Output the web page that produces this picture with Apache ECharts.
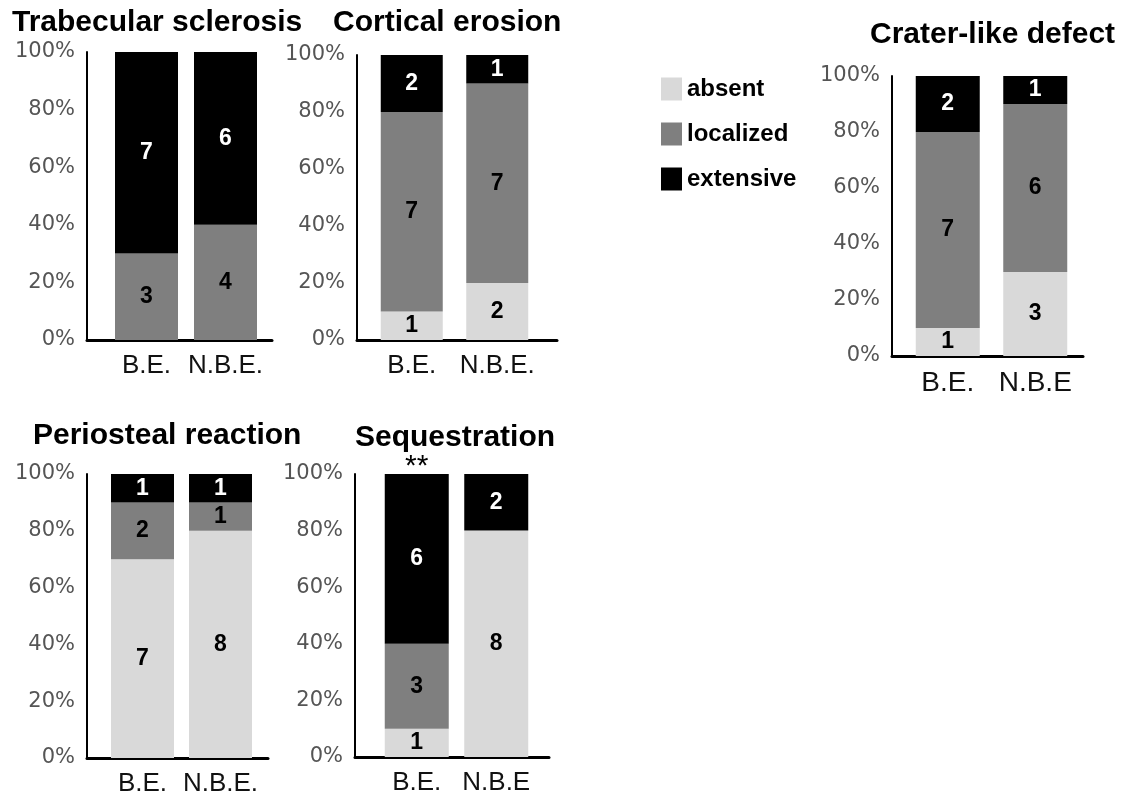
<!DOCTYPE html>
<html><head><meta charset="utf-8">
<script src="https://cdn.jsdelivr.net/npm/echarts@6/dist/echarts.min.js"></script>
<style>html,body{margin:0;padding:0;background:#fff}#c{width:1124px;height:800px}</style>
</head><body><div id="c"></div>
<script>
// ---- data ----
const levels = ['absent', 'localized', 'extensive'];
const panelTitles = ['Trabecular sclerosis', 'Cortical erosion', 'Crater-like defect', 'Periosteal reaction', 'Sequestration'];
const catsTrabecular = ['B.E.', 'N.B.E.'];
const catsCortical = ['B.E.', 'N.B.E.'];
const catsCrater = ['B.E.', 'N.B.E'];
const catsPeriosteal = ['B.E.', 'N.B.E.'];
const catsSequestration = ['B.E.', 'N.B.E'];

const trabecularAbsent = [0, 0], trabecularLocalized = [3, 4], trabecularExtensive = [7, 6];
const corticalAbsent = [1, 2], corticalLocalized = [7, 7], corticalExtensive = [2, 1];
const craterAbsent = [1, 3], craterLocalized = [7, 6], craterExtensive = [2, 1];
const periostealAbsent = [7, 8], periostealLocalized = [2, 1], periostealExtensive = [1, 1];
const sequestrationAbsent = [1, 8], sequestrationLocalized = [3, 0], sequestrationExtensive = [6, 2];
const sequestrationSignificance = ['**', ''];

const yMin = 0, yMax = 100, yStep = 20;

// ---- layout / style ----
const colors = ['#d9d9d9', '#7f7f7f', '#000000'];
const labelColors = ['#000', '#000', '#fff'];
// frame: axis-line extents; band: category band layout
const panels = [
  { cats: catsTrabecular, counts: [trabecularAbsent, trabecularLocalized, trabecularExtensive], sig: null,
    frame: { left: 87, top: 52, width: 185, height: 288 }, band: { left: 107, width: 158 }, barW: 63,
    title: { left: 12, top: 8 }, catSize: 26 },
  { cats: catsCortical, counts: [corticalAbsent, corticalLocalized, corticalExtensive], sig: null,
    frame: { left: 357, top: 55, width: 200, height: 285 }, band: { left: 369, width: 171 }, barW: 62,
    title: { left: 333, top: 8 }, catSize: 26 },
  { cats: catsCrater, counts: [craterAbsent, craterLocalized, craterExtensive], sig: null,
    frame: { left: 892, top: 76, width: 191, height: 280 }, band: { left: 904, width: 175 }, barW: 64,
    title: { left: 870, top: 20 }, catSize: 28 },
  { cats: catsPeriosteal, counts: [periostealAbsent, periostealLocalized, periostealExtensive], sig: null,
    frame: { left: 87, top: 474, width: 181, height: 284 }, band: { left: 103.5, width: 156 }, barW: 63,
    title: { left: 33, top: 421 }, catSize: 26 },
  { cats: catsSequestration, counts: [sequestrationAbsent, sequestrationLocalized, sequestrationExtensive], sig: sequestrationSignificance,
    frame: { left: 355, top: 474, width: 194, height: 283 }, band: { left: 377, width: 159 }, barW: 64,
    title: { left: 355, top: 423 }, catSize: 26 }
];

const SANS = '"Liberation Sans", Arial, sans-serif';
const titles = [], grids = [], xAxes = [], yAxes = [], series = [];

panels.forEach((p, pi) => {
  titles.push({
    text: panelTitles[pi], left: p.title.left, top: p.title.top, padding: 0,
    textStyle: { fontFamily: SANS, fontWeight: 'bold', fontSize: 30, color: '#000' }
  });
  // data grid (bars, category labels, y axis shifted onto the frame line)
  const gData = grids.length;
  grids.push({ left: p.band.left, width: p.band.width, top: p.frame.top, height: p.frame.height });
  xAxes.push({
    gridIndex: gData, type: 'category', data: p.cats, boundaryGap: true,
    axisLine: { show: false }, axisTick: { show: false }, splitLine: { show: false },
    axisLabel: { interval: 0, hideOverlap: false, fontFamily: SANS, fontSize: p.catSize, color: '#111', margin: 13 }
  });
  yAxes.push({
    gridIndex: gData, type: 'value', min: yMin, max: yMax, interval: yStep,
    offset: p.band.left - p.frame.left,
    axisLine: { show: true, onZero: false, lineStyle: { color: '#000', width: 2 } },
    axisTick: { show: false }, splitLine: { show: false },
    axisLabel: { formatter: '{value}%', fontFamily: '"DejaVu Sans", sans-serif', fontSize: 21, color: '#555', margin: 12 }
  });
  // frame grid (baseline axis line over full extent)
  const gFrame = grids.length;
  grids.push(Object.assign({}, p.frame));
  xAxes.push({
    gridIndex: gFrame, type: 'value', min: 0, max: 1,
    axisLine: { show: true, onZero: false, lineStyle: { color: '#000', width: 3 } },
    axisTick: { show: false }, splitLine: { show: false }, axisLabel: { show: false }
  });
  yAxes.push({
    gridIndex: gFrame, type: 'value', min: yMin, max: yMax, show: false
  });

  const totals = p.cats.map((c, i) => p.counts.reduce((s, arr) => s + arr[i], 0));
  levels.forEach((lev, li) => {
    const counts = p.counts[li];
    const s = {
      type: 'bar', name: lev, xAxisIndex: xAxes.length - 2, yAxisIndex: yAxes.length - 2, stack: 'panel' + pi,
      barWidth: p.barW,
      itemStyle: { color: colors[li] },
      data: counts.map((c, i) => c / totals[i] * 100),
      label: {
        show: true, position: 'inside',
        formatter: prm => counts[prm.dataIndex] ? String(counts[prm.dataIndex]) : '',
        color: labelColors[li], fontFamily: SANS, fontWeight: 'bold', fontSize: 23
      },
      emphasis: { disabled: true }
    };
    if (p.sig && li === levels.length - 1) {
      s.markPoint = {
        symbol: 'circle', symbolSize: 1, itemStyle: { color: 'rgba(0,0,0,0)' },
        data: p.sig.map((t, i) => ({ coord: [i, yMax], value: t })).filter(d => d.value),
        label: { show: true, position: 'top', distance: -8, formatter: d => d.value,
          fontFamily: SANS, fontSize: 30, color: '#000' }
      };
    }
    series.push(s);
  });
});

const chart = echarts.init(document.getElementById('c'), null, { renderer: 'canvas' });
chart.setOption({
  animation: false,
  backgroundColor: '#fff',
  title: titles,
  legend: {
    data: levels, orient: 'vertical', left: 661, top: 77, padding: 0,
    itemWidth: 21, itemHeight: 23, itemGap: 21, icon: 'rect',
    textStyle: { fontFamily: SANS, fontWeight: 'bold', fontSize: 24, color: '#000' },
    selectedMode: false
  },
  grid: grids, xAxis: xAxes, yAxis: yAxes, series: series
});
</script></body></html>
